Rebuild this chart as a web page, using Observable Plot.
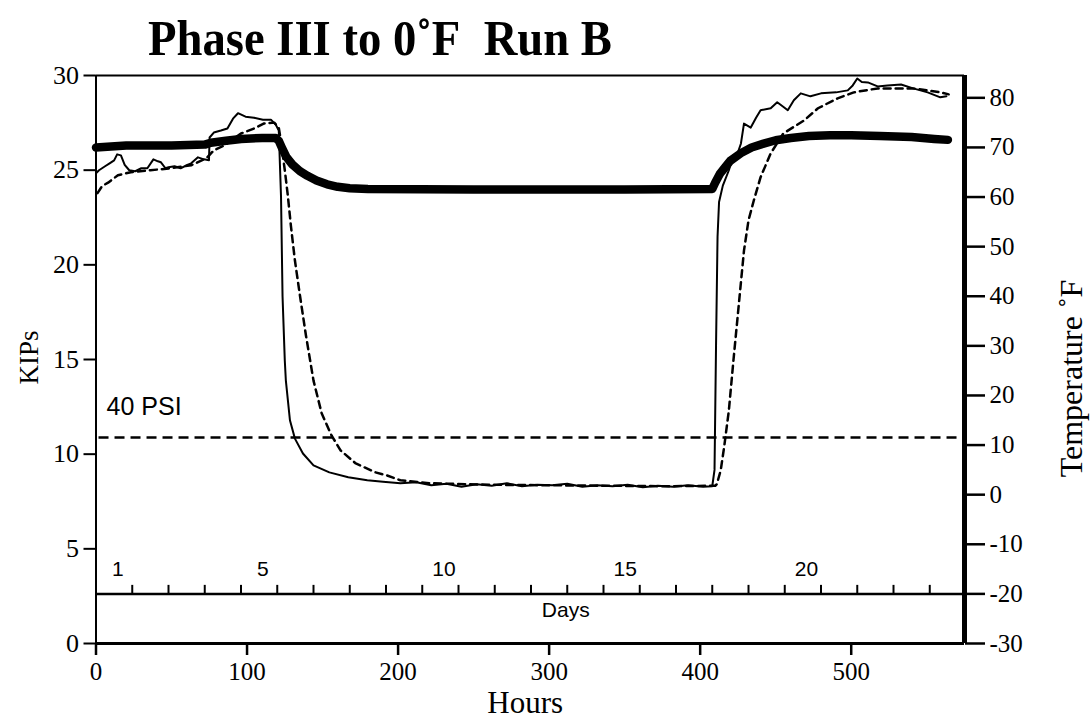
<!DOCTYPE html>
<html><head><meta charset="utf-8">
<script src="https://cdn.jsdelivr.net/npm/d3@7"></script>
<script src="https://cdn.jsdelivr.net/npm/@observablehq/plot@0.6"></script>
<style>
body{margin:0;background:#fff;}
#wrap{position:relative;width:1091px;height:722px;overflow:hidden;background:#fff;}
#title{position:absolute;left:148px;top:13px;font:bold 51px "Liberation Serif",serif;white-space:nowrap;transform-origin:left top;line-height:1;color:#000;}
#chart{position:absolute;left:0;top:0;}
</style></head><body>
<div id="wrap"><div id="chart"></div><div id="title">Phase III to 0˚F&nbsp; Run B</div></div>
<script>
// ---- data ----
const kipTicks = [0, 5, 10, 15, 20, 25, 30];
const tempTicks = [-30, -20, -10, 0, 10, 20, 30, 40, 50, 60, 70, 80];
const hourTicks = [0, 100, 200, 300, 400, 500];
const dayLabels = [1, 5, 10, 15, 20];
const dayTickHours = [24,48,72,96,120,144,168,192,216,240,264,288,312,336,360,384,408,432,456,480,504,528,552];
const daysLineTemp = -20;
const psiKips = 10.88;
const psiLabel = "40 PSI";

// thick line (KIPs)
const thickHours = [0,20,50,72,76,86,96,110,119,121,123,126,130,135,140,146,153,160,168,180,250,350,408,410,413,416,420,427,434,442,450,460,472,486,500,519,540,555,564];
const thickKips  = [26.2,26.3,26.3,26.35,26.45,26.55,26.65,26.7,26.7,26.55,26.2,25.7,25.3,24.95,24.7,24.45,24.25,24.12,24.05,24.0,23.98,23.98,24.0,24.35,24.8,25.1,25.5,25.9,26.2,26.4,26.58,26.7,26.8,26.84,26.85,26.8,26.75,26.65,26.6];

// thin solid line (°F)
const thinHours = [0,2,6,9,12,14,16.5,19,22,26,30,34,38,41,43,46,48,52,56,60,63,67.5,71.5,74.8,75.2,78,82.7,87,90.7,94,99,104.6,110.5,115.8,119,121,122.5,123.5,125,125.7,128.4,131.7,137,144,154.5,167,179.6,190,201.5,212,222,232,242,252,262,272,282,292,302,312,322,332,342,352,362,372,382,392,402,408,409.5,410.5,411.5,412.5,415,419,422,425,427,429,433.5,437,440,446.7,451,455,458,462,466.6,473,480,490,497.7,501,504,507,511,517.5,524,533,541,550.6,559,563];
const thinTemp  = [64.8,65.4,66.2,66.8,67.4,68.6,68.4,66.5,65.4,65.2,65.8,65.8,67.6,67.2,67,65.8,66,66.2,65.8,66.4,66.8,68,67.6,67.4,72,73,73.4,73.8,75.8,76.9,76.2,76,75.6,75.6,74.6,73.4,60,40,27,23,15,11.3,8.3,5.9,4.5,3.5,2.9,2.6,2.3,2.5,1.9,2.2,1.6,2.1,1.8,2.3,1.7,2.0,1.9,2.2,1.6,1.9,1.7,2.0,1.5,1.8,1.6,1.9,1.6,1.7,5,30,52,59,62.3,65.4,68.4,69,70.8,74.8,74,76,77.5,77.9,79.1,78.2,77.5,79.5,80.9,80.3,80.9,81.1,81.5,82.5,83.9,83.2,83.1,82.3,82.5,82.7,81.9,81.1,80.1,80.3];

// dashed line (°F)
const dashHours = [1,4,8,14.5,23,36,49.6,63,73,78,85,96,104.6,111,118,121,122.4,125,127,129,131.7,135,139,144,149.4,156,162,172,185,192.5,201.5,221.5,260,300,340,380,410,411,413.6,416,419,422,425.5,429,432,435.5,440,446.7,455,468.6,478,491,501.7,517.5,541,559,564.5];
const dashTemp  = [60.8,62.2,62.9,64.4,65,65.4,65.8,66.4,67.8,69.4,70.4,72.8,73.8,74.8,75,74,71.4,65.4,60.3,54.3,47.2,40.2,32.1,23,16.4,11.9,8.9,6.3,4.5,3.9,2.9,2.3,2.0,1.9,1.8,1.7,1.8,2.1,4.9,9.9,17,27,38.1,49.2,55.3,59.3,64,68.8,72.8,75.4,77.9,79.9,81.1,81.9,81.9,81.1,80.7];

// ---- scale helpers ----
const tempMin = -30, tempMax = 84.5, kipMax = 30;
const toK = t => (t - tempMin) * kipMax / (tempMax - tempMin);
const fromK = k => k * (tempMax - tempMin) / kipMax + tempMin;

const thick = thickHours.map((h, i) => ({h, v: thickKips[i]}));
const thin = thinHours.map((h, i) => ({h, v: toK(thinTemp[i])}));
const dash = dashHours.map((h, i) => ({h, v: toK(dashTemp[i])}));
const dayK = toK(daysLineTemp);

const serif = '"Liberation Serif", "Times New Roman", serif';
const sans = '"Liberation Sans", Arial, sans-serif';

const chart = Plot.plot({
  width: 1091, height: 722,
  marginLeft: 95.5, marginRight: 127, marginTop: 75, marginBottom: 79,
  x: {domain: [0, 575]},
  y: {domain: [0, kipMax]},
  style: {fontFamily: serif, fontSize: "25px", color: "#000", background: "#fff", overflow: "visible"},
  marks: [
    Plot.axisY(kipTicks, {anchor: "left", tickSize: 12, tickPadding: 5, fontSize: 26, label: null, strokeWidth: 2}),
    Plot.axisY(tempTicks.map(toK), {anchor: "right", tickSize: 20, tickPadding: 5, fontSize: 25, label: null, strokeWidth: 2.5,
      tickFormat: k => String(Math.round(fromK(k)))}),
    Plot.axisX(hourTicks, {anchor: "bottom", tickSize: 12, tickPadding: 7, fontSize: 25, label: null, strokeWidth: 2.5}),
    // frame
    Plot.ruleX([0], {stroke: "#000", strokeWidth: 2}),
    Plot.ruleY([kipMax], {stroke: "#000", strokeWidth: 2}),
    Plot.ruleY([0], {stroke: "#000", strokeWidth: 3}),
    Plot.ruleX([575], {stroke: "#000", strokeWidth: 5}),
    // days scale
    Plot.ruleY([dayK], {stroke: "#000", strokeWidth: 2.5}),
    Plot.ruleX(dayTickHours, {x: d => d, y1: dayK, y2: dayK + 0.45, stroke: "#000", strokeWidth: 2}),
    Plot.text(dayLabels, {x: d => (d - 0.4) * 24, y: dayK, dy: -25, text: d => String(d), fontFamily: sans, fontSize: 21, fill: "#000"}),
    Plot.text(["Days"], {x: 311, y: dayK, dy: 16, fontFamily: sans, fontSize: 21, fill: "#000"}),
    // 40 PSI line
    Plot.ruleY([psiKips], {x1: 2, x2: 573, stroke: "#000", strokeWidth: 2.5, strokeDasharray: "10,6"}),
    Plot.text([psiLabel], {x: 7, y: psiKips, dy: -31, textAnchor: "start", fontFamily: sans, fontSize: 25, fill: "#000"}),
    // series
    Plot.line(dash, {x: "h", y: "v", stroke: "#000", strokeWidth: 2.5, strokeDasharray: "7,5"}),
    Plot.line(thin, {x: "h", y: "v", stroke: "#000", strokeWidth: 2}),
    Plot.line(thick, {x: "h", y: "v", stroke: "#000", strokeWidth: 8.5, strokeLinejoin: "round"}),
    // axis titles
    Plot.text(["KIPs"], {frameAnchor: "left", dx: -67, dy: -2, rotate: -90, textAnchor: "middle", lineAnchor: "middle", fontSize: 27, fontFamily: serif, fill: "#000"}),
    Plot.text(["Temperature ˚F"], {frameAnchor: "right", dx: 107, dy: 19, rotate: -90, textAnchor: "middle", lineAnchor: "middle", fontSize: 32, fontFamily: serif, fill: "#000"}),
    Plot.text(["Hours"], {frameAnchor: "bottom", dx: -5, dy: 60, textAnchor: "middle", lineAnchor: "middle", fontSize: 31, fontFamily: serif, fill: "#000"})
  ]
});
document.getElementById("chart").appendChild(chart);

// fit title width to reference
const t = document.getElementById("title");
const w = t.getBoundingClientRect().width;
t.style.transform = `scaleX(${464 / w})`;
</script>
</body></html>
